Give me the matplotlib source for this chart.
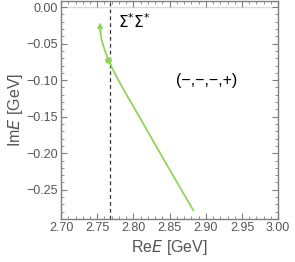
import matplotlib
matplotlib.use('Agg')
from matplotlib import pyplot as plt
from matplotlib.ticker import MultipleLocator

# pole trajectory (Re E, Im E) in GeV
re_e = [2.8825, 2.8424, 2.8029, 2.7908, 2.7792, 2.7716, 2.7654, 2.7604, 2.7561, 2.7545, 2.7538, 2.7535]
im_e = [-0.2777, -0.2094, -0.1411, -0.1206, -0.1001, -0.0855, -0.0719, -0.0592, -0.0455, -0.0346, -0.0277, -0.0209]
dot_re = [2.7654]
dot_im = [-0.0719]
threshold = 2.7674
label_thr = r'$\Sigma^{*}\Sigma^{*}$'
label_sign = '(\u2212,\u2212,\u2212,+)'

green = '#92d459'
gray = '#7f7f7f'

plt.rcParams['font.family'] = ['Liberation Sans', 'DejaVu Sans']
plt.rcParams['mathtext.fontset'] = 'dejavusans'

fig = plt.figure(figsize=(2.95, 2.62), dpi=100)
ax = fig.add_axes([0.207, 0.164, 0.736, 0.832])

ax.axhline(0, color='#dddddd', lw=1, zorder=1)
ax.axvline(threshold, color='#333333', lw=0.9, ls=(0, (3, 2.5)), zorder=2)
ax.plot(re_e[:-1], im_e[:-1], color=green, lw=1.3, zorder=3)
ax.annotate('', xy=(re_e[-1], im_e[-1]), xytext=(re_e[-3], im_e[-3]),
            arrowprops=dict(arrowstyle='-|>', color=green, lw=1.3, mutation_scale=7,
                            shrinkA=0, shrinkB=0), zorder=3)
ax.plot(dot_re, dot_im, 'o', color=green, ms=3.8, zorder=4)

ax.text(2.7785, -0.0205, label_thr, fontsize=11, va='center', ha='left', color='black')
ax.text(2.901, -0.101, label_sign, fontsize=11.5, va='center', ha='center', color='black')

ax.set_xlim(2.70, 3.00)
ax.set_ylim(-0.29, 0.0082)
ax.xaxis.set_major_locator(MultipleLocator(0.05))
ax.xaxis.set_minor_locator(MultipleLocator(0.01))
ax.yaxis.set_major_locator(MultipleLocator(0.05))
ax.yaxis.set_minor_locator(MultipleLocator(0.01))
ax.xaxis.set_major_formatter(plt.FuncFormatter(lambda v, p: '%.2f' % v))
ax.yaxis.set_major_formatter(plt.FuncFormatter(lambda v, p: ('%.2f' % v).replace('-', '\u2212')))
ax.tick_params(which='both', direction='in', top=True, right=True, color=gray,
               labelcolor='#555555', labelsize=9, pad=2)
ax.tick_params(which='major', length=4, width=0.8)
ax.tick_params(which='minor', length=2, width=0.6)
for s in ax.spines.values():
    s.set_color(gray)
    s.set_linewidth(1)

ax.set_xlabel(r'Re$E$ [GeV]', fontsize=11.5, color='#555555', labelpad=3)
ax.set_ylabel(r'Im$E$ [GeV]', fontsize=11.5, color='#555555', labelpad=1)

fig.savefig('out.png', dpi=100)
